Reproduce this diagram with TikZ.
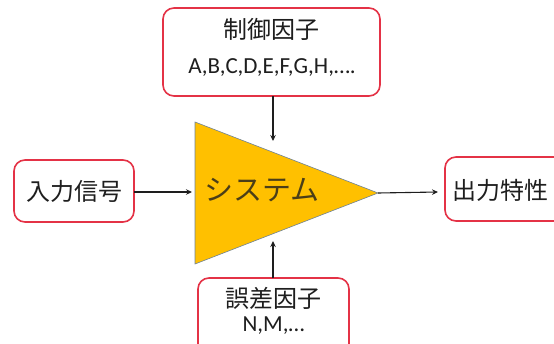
\documentclass[tikz,border=0pt]{standalone}
\usepackage{fontspec}
\setmainfont{Carlito}
\newfontfamily\jp{Noto Sans CJK JP}
\usetikzlibrary{arrows.meta}
\definecolor{boxred}{RGB}{228,50,70}
\definecolor{sysfill}{RGB}{255,192,0}
\definecolor{sysedge}{RGB}{110,130,150}
\definecolor{txt}{RGB}{30,30,30}
\tikzset{
  rbox/.style={draw=boxred, line width=1.6pt, rounded corners=11pt, fill=white, text=txt},
  conn/.style={draw=txt, line width=1.1pt, -{Stealth[length=6pt,width=5.5pt]}},
  jpfont/.style={text=txt, font=\jp\fontsize{24}{28}\selectfont},
  latfont/.style={text=txt, font=\fontsize{23}{26}\selectfont},
}
\begin{document}
\begin{tikzpicture}[x=1pt,y=-1pt]
\useasboundingbox (0,0) rectangle (554,343);
\clip (0,0) rectangle (554,343);
% boxes
\draw[rbox] (163,8) rectangle (380,96);
\node[jpfont] (ctrlT) at (271.5,29) {制御因子};
\node[latfont] (ctrlL) at (272,68) {A,B,C,D,E,F,G,H,….};
\coordinate (ctrlB) at (273,96);

\draw[rbox] (14,160) rectangle (134,222);
\node[jpfont] (inp) at (74,191) {入力信号};
\coordinate (inR) at (134,192);

\draw[rbox] (445,157) rectangle (580,221);
\node[jpfont, anchor=west] (out) at (449,190) {出力特性};
\coordinate (outL) at (438,192);

\draw[rbox] (198,278) rectangle (349,360);
\node[jpfont] (errT) at (273.5,298) {誤差因子};
\node[latfont] (errL) at (273.5,326) {N,M,…};
\coordinate (errTop) at (273,278);

% triangle
\draw[fill=sysfill, draw=sysedge, line width=0.6pt] (195,122) -- (378,193) -- (195,264) -- cycle;
\coordinate (apex) at (378,193);
\node[text=txt!80!sysfill, font=\jp\fontsize{29}{32}\selectfont] (sys) at (262,190) {システム};

% connectors
\draw[conn] (inR) -- (192,192);
\draw[conn] (apex) -- (outL);
\draw[conn] (ctrlB) -- (273,141);
\draw[conn] (errTop) -- (273,241);
\end{tikzpicture}
\end{document}
